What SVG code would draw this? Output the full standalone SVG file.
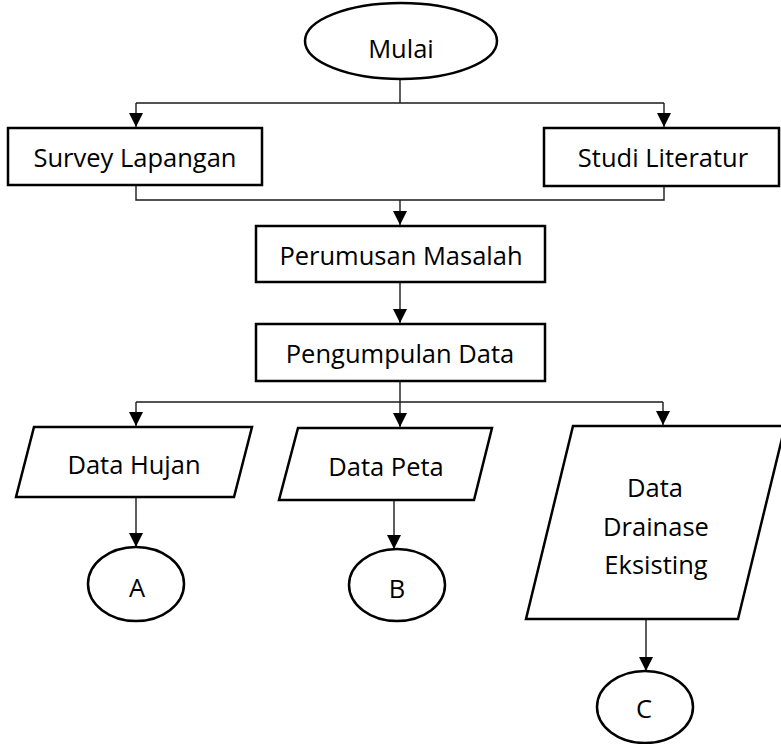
<svg xmlns="http://www.w3.org/2000/svg" width="781" height="744" viewBox="0 0 781 744">
  <style>
    .shape { fill: #ffffff; stroke: #000000; stroke-width: 2.5; }
    .link { fill: none; stroke: #1a1a1a; stroke-width: 1.4; }
    .label { font-family: "Open Sans", "Noto Sans", sans-serif; font-size: 25.5px; fill: #000000; text-anchor: middle; }
  </style>
  <defs>
    <marker id="arrow" markerUnits="userSpaceOnUse" markerWidth="14" markerHeight="14" refX="14" refY="7" orient="auto">
      <path d="M0,0 L14,7 L0,14 z" fill="#000000"/>
    </marker>
  </defs>

  <!-- connectors -->
  <g id="connectors">
    <path class="link" d="M400,80 V103"/>
    <path class="link" d="M136,103 H664"/>
    <path class="link" d="M136,103 V127" marker-end="url(#arrow)"/>
    <path class="link" d="M664,103 V127" marker-end="url(#arrow)"/>
    <path class="link" d="M136,185 V200 H664 V186"/>
    <path class="link" d="M400,200 V225" marker-end="url(#arrow)"/>
    <path class="link" d="M400,282 V323" marker-end="url(#arrow)"/>
    <path class="link" d="M400,381 V402"/>
    <path class="link" d="M136,402 H663"/>
    <path class="link" d="M136,402 V426" marker-end="url(#arrow)"/>
    <path class="link" d="M400,402 V427" marker-end="url(#arrow)"/>
    <path class="link" d="M663,402 V425" marker-end="url(#arrow)"/>
    <path class="link" d="M136,497 V547" marker-end="url(#arrow)"/>
    <path class="link" d="M394,500 V549" marker-end="url(#arrow)"/>
    <path class="link" d="M646,619 V671" marker-end="url(#arrow)"/>
  </g>

  <!-- nodes -->
  <g id="mulai">
    <ellipse class="shape" cx="401" cy="41" rx="96" ry="38"/>
    <text class="label" x="401" y="58">Mulai</text>
  </g>
  <g id="survey-lapangan">
    <rect class="shape" x="8" y="128" width="254" height="57"/>
    <text class="label" x="135" y="167">Survey Lapangan</text>
  </g>
  <g id="studi-literatur">
    <rect class="shape" x="544" y="128" width="235" height="58"/>
    <text class="label" x="663" y="167">Studi Literatur</text>
  </g>
  <g id="perumusan-masalah">
    <rect class="shape" x="256" y="226" width="289" height="56"/>
    <text class="label" x="401" y="265">Perumusan Masalah</text>
  </g>
  <g id="pengumpulan-data">
    <rect class="shape" x="256" y="324" width="289" height="57"/>
    <text class="label" x="400" y="363">Pengumpulan Data</text>
  </g>
  <g id="data-hujan">
    <polygon class="shape" points="34,427 252,427 234,497 16,497"/>
    <text class="label" x="134" y="474">Data Hujan</text>
  </g>
  <g id="data-peta">
    <polygon class="shape" points="298,428 492,428 474,500 279,500"/>
    <text class="label" x="386" y="476">Data Peta</text>
  </g>
  <g id="data-drainase">
    <polygon class="shape" points="573,426 785,426 738,619 526,619"/>
    <text class="label" x="655" y="497">Data</text>
    <text class="label" x="656" y="536">Drainase</text>
    <text class="label" x="656" y="574">Eksisting</text>
  </g>
  <g id="konektor-a">
    <ellipse class="shape" cx="136" cy="584" rx="48" ry="37"/>
    <text class="label" x="137" y="597">A</text>
  </g>
  <g id="konektor-b">
    <ellipse class="shape" cx="397" cy="585" rx="48" ry="36"/>
    <text class="label" x="397" y="598">B</text>
  </g>
  <g id="konektor-c">
    <ellipse class="shape" cx="645" cy="707" rx="48" ry="36"/>
    <text class="label" x="644" y="718">C</text>
  </g>
</svg>
